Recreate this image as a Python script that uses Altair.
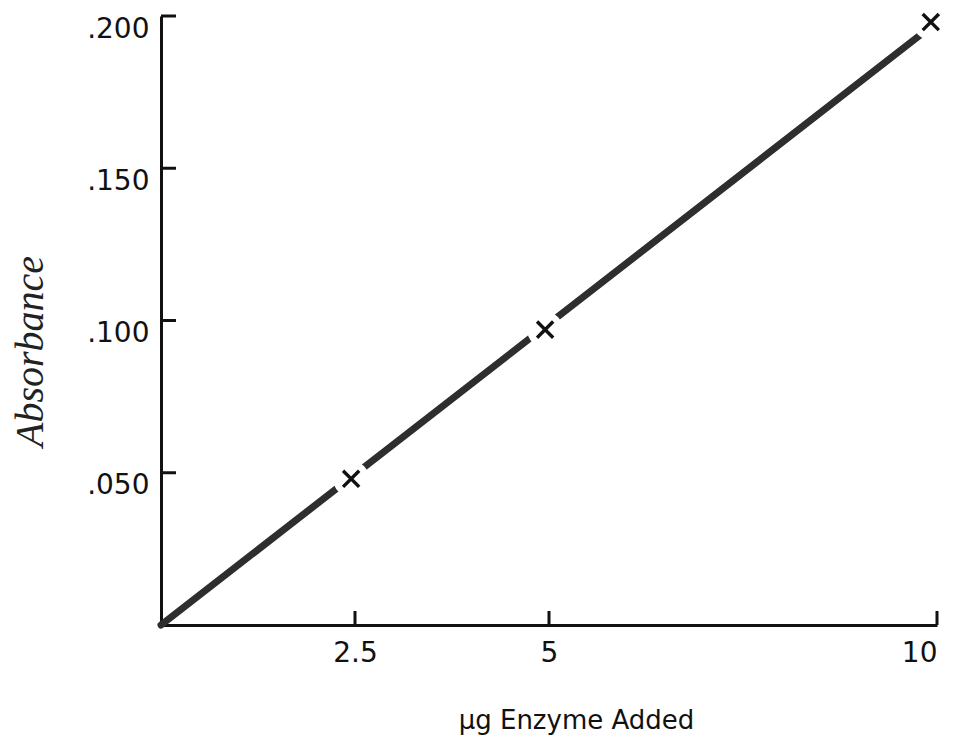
import altair as alt
import pandas as pd

# data
x_points = [2.45, 4.95, 9.92]
y_points = [0.048, 0.097, 0.198]
line_x = [0, 10]
line_y = [0, 0.198]
x_ticks = [2.5, 5, 10]
y_ticks = [0.05, 0.10, 0.15, 0.20]
x_title = "µg Enzyme Added"
y_title = "Absorbance"

W, H = 776, 609
xs = alt.Scale(domain=[0, 10], nice=False, zero=True)
ys = alt.Scale(domain=[0, 0.2], nice=False, zero=True)

pts = pd.DataFrame({"x": x_points, "y": y_points})
ln = pd.DataFrame({"x": line_x, "y": line_y})
xt = pd.DataFrame({"x": x_ticks})
yt = pd.DataFrame({"y": y_ticks})

x_axis = alt.Axis(
    values=x_ticks, ticks=False, grid=False,
    domainColor="#111", domainWidth=3,
    labelExpr="format(datum.value, '~g')",
    labelFont="DejaVu Sans", labelFontSize=28, labelColor="#111",
    labelPadding=14, labelBaseline="top",
    title=x_title, titleFont="DejaVu Sans", titleFontSize=26,
    titleFontWeight="normal", titleColor="#111",
    titleX=415, titleY=95, titleAlign="center", titleBaseline="middle",
    titleAnchor="start",
)
y_axis = alt.Axis(
    values=y_ticks, ticks=False, grid=False,
    domainColor="#111", domainWidth=3,
    labelExpr="replace(format(datum.value, '.3f'), '0.', '.')",
    labelFont="DejaVu Sans", labelFontSize=28, labelColor="#111",
    labelPadding=12, labelOffset=13,
    title=y_title, titleFont="Liberation Serif", titleFontSize=40,
    titleFontStyle="italic", titleFontWeight="normal", titleColor="#222",
    titleX=-131, titleY=335, titleAngle=270, titleAlign="center",
    titleBaseline="middle", titleAnchor="start",
)

X = alt.X("x:Q", scale=xs, axis=x_axis)
Y = alt.Y("y:Q", scale=ys, axis=y_axis)

line = alt.Chart(ln).mark_line(color="#2e2e2e", strokeWidth=7, strokeCap="round").encode(
    x=X, y=Y,
)

gaps = alt.Chart(pts).mark_circle(color="white", opacity=1, size=1300).encode(
    x=X, y=Y,
)

marks = alt.Chart(pts).mark_point(
    shape="M-1,-1L1,1M-1,1L1,-1", filled=False, stroke="#111",
    strokeWidth=3.4, size=260, opacity=1,
).encode(
    x=X, y=Y,
)

yticks = alt.Chart(yt).mark_rule(color="#111", strokeWidth=3).encode(
    y=Y,
    x=alt.value(0),
    x2=alt.value(15),
)

xticks = alt.Chart(xt).mark_rule(color="#111", strokeWidth=3).encode(
    x=X,
    y=alt.value(H),
    y2=alt.value(H - 14),
)

chart = alt.layer(line, gaps, marks, yticks, xticks).properties(
    width=W, height=H,
    autosize=alt.AutoSizeParams(type="none"),
    padding={"left": 161, "top": 16, "right": 26, "bottom": 119},
    background="white",
).configure_view(strokeWidth=0)

chart.save("out.html", embed_options={"renderer": "svg", "actions": False})
